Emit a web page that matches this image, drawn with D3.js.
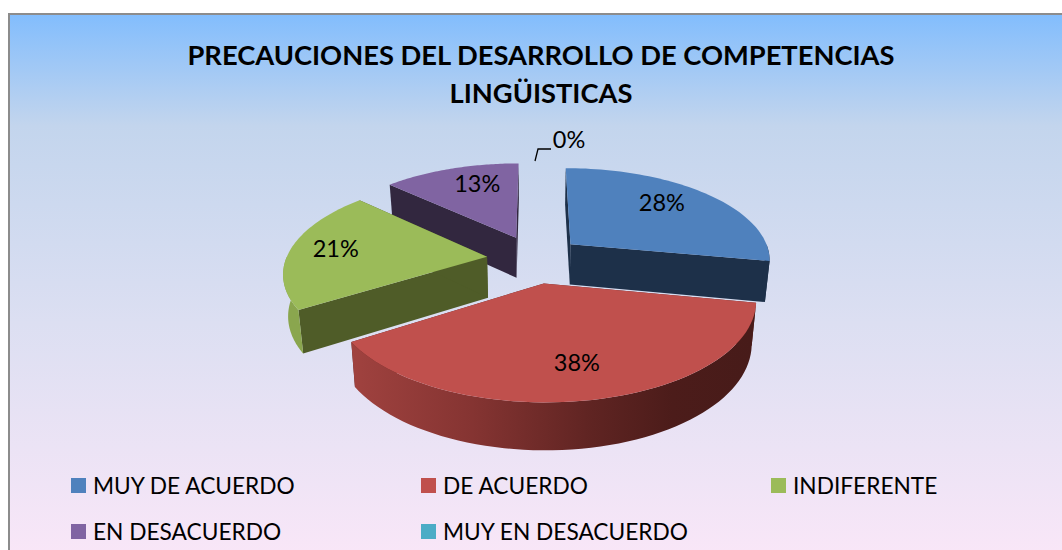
<!DOCTYPE html>
<html><head><meta charset="utf-8">
<script src="https://cdn.jsdelivr.net/npm/d3@7"></script>
<style>html,body{margin:0;padding:0;background:#fff;overflow:hidden}svg{display:block}text{font-family:Lato,"Open Sans",sans-serif;fill:#000}</style>
</head><body><svg id="c" width="1062" height="550"></svg>
<script>
const titleLines = ["PRECAUCIONES DEL DESARROLLO DE COMPETENCIAS", "LINGÜISTICAS"];
const categories = ["MUY DE ACUERDO", "DE ACUERDO", "INDIFERENTE", "EN DESACUERDO", "MUY EN DESACUERDO"];
const values = [28, 38, 21, 13, 0];
const topColors = ["#4f81bd", "#c0504d", "#9bbb59", "#8064a2", "#4bacc6"];
const wallColors = ["#1d3049", "#5a2220", "#4f5c28", "#32273f", "#1d4450"];
const rimColors = ["#1d3049", "url(#redRim)", "#8aa64e", "#32273f", "#1d4450"];
const labelRadius = [0.69, 0.72, 0.77, 0.69, 1];
const labelShift = [[-4, -5], [0, 0], [0, -1], [8, -4], [0, 0]];
const drawOrder = [3, 2, 0, 1];

const svg = d3.select("#c");
const defs = svg.append("defs");
const bg = defs.append("linearGradient").attr("id", "bg").attr("x1", 0).attr("y1", 0).attr("x2", 0).attr("y2", 1);
[[0, "#82bdfd"], [0.2, "#c3d5ed"], [0.55, "#dcdff2"], [1, "#fbe7f8"]].forEach(s => bg.append("stop").attr("offset", s[0]).attr("stop-color", s[1]));
const rg = defs.append("linearGradient").attr("id", "redRim").attr("gradientUnits", "userSpaceOnUse").attr("x1", 352).attr("x2", 752).attr("y1", 0).attr("y2", 0);
[[0, "#a0423f"], [0.3, "#853432"], [0.6, "#5f2422"], [0.8, "#4c1c1a"], [1, "#471b19"]].forEach(s => rg.append("stop").attr("offset", s[0]).attr("stop-color", s[1]));

svg.append("rect").attr("x", 9).attr("y", 14).attr("width", 1070).attr("height", 560).attr("fill", "url(#bg)").attr("stroke", "#8c8c8c").attr("stroke-width", 2);

// 3-D pie projection
const cx = 534.5, cy = 259, Rx = 201, Ry = 92, Hz = 41, k = 0.155, ex = 0.238, ey = 0.26, q = 0.98;
function project(a, r, off, bottom) {
  const x = off.x + r * Math.sin(a), y = off.y + r * Math.cos(a);
  const p = 1 / (1 + k * y);
  const X = Rx * x * p, Y = -Ry * y * p;
  return bottom ? [cx + X * q, cy + Y + Hz * (1 + (p - 1) * 0.7)] : [cx + X, cy + Y];
}
const line = d3.line();
const samples = (a0, a1) => d3.range(0, 61).map(i => a0 + (a1 - a0) * i / 60);
const arcs = d3.pie().sort(null).startAngle(0).endAngle(2 * Math.PI)(values);

const gPie = svg.append("g");
drawOrder.forEach(i => {
  const d = arcs[i];
  const mid = (d.startAngle + d.endAngle) / 2;
  const off = { x: ex * Math.sin(mid), y: ey * Math.cos(mid) };
  const g = gPie.append("g");
  [d.startAngle, d.endAngle].forEach(a => {
    g.append("path").attr("fill", wallColors[i])
      .attr("d", line([project(a, 0, off), project(a, 1, off), project(a, 1, off, true), project(a, 0, off, true)]) + "Z");
  });
  const a0 = Math.max(d.startAngle, Math.PI / 2), a1 = Math.min(d.endAngle, 1.5 * Math.PI);
  if (a1 > a0) {
    const s = samples(a0, a1);
    g.append("path").attr("fill", rimColors[i])
      .attr("d", line(s.map(a => project(a, 1, off)).concat(s.slice().reverse().map(a => project(a, 1, off, true)))) + "Z");
  }
  const top = [project(0, 0, off)].concat(samples(d.startAngle, d.endAngle).map(a => project(a, 1, off)));
  g.append("path").attr("fill", topColors[i]).attr("d", line(top) + "Z");
});

// data labels
arcs.forEach((d, i) => {
  if (d.value === 0) return;
  const mid = (d.startAngle + d.endAngle) / 2;
  const off = { x: ex * Math.sin(mid), y: ey * Math.cos(mid) };
  const p = project(mid, labelRadius[i], off);
  svg.append("text").attr("x", p[0] + labelShift[i][0]).attr("y", p[1] + 8 + labelShift[i][1]).attr("text-anchor", "middle").attr("font-size", 23.5).text(Math.round(d.value) + "%");
});
svg.append("text").attr("x", 569).attr("y", 148).attr("text-anchor", "middle").attr("font-size", 23.5).text(values[4] + "%");
svg.append("path").attr("d", line([[551, 149], [538, 149], [535, 161]])).attr("fill", "none").attr("stroke", "#000").attr("stroke-width", 1.3);

// title
titleLines.forEach((t, i) => svg.append("text").attr("x", 541).attr("y", 65 + i * 37.5).attr("text-anchor", "middle").attr("font-size", 27.3).attr("font-weight", 700).text(t));

// legend
const legendX = [71, 421, 771], legendRowY = [478, 524];
categories.forEach((c, i) => {
  const col = i < 3 ? i : i - 3, row = i < 3 ? 0 : 1;
  svg.append("rect").attr("x", legendX[col]).attr("y", legendRowY[row]).attr("width", 15).attr("height", 15).attr("fill", topColors[i]);
  svg.append("text").attr("x", legendX[col] + 22).attr("y", legendRowY[row] + 15.5).attr("font-size", 22.7).text(c);
});
</script></body></html>
